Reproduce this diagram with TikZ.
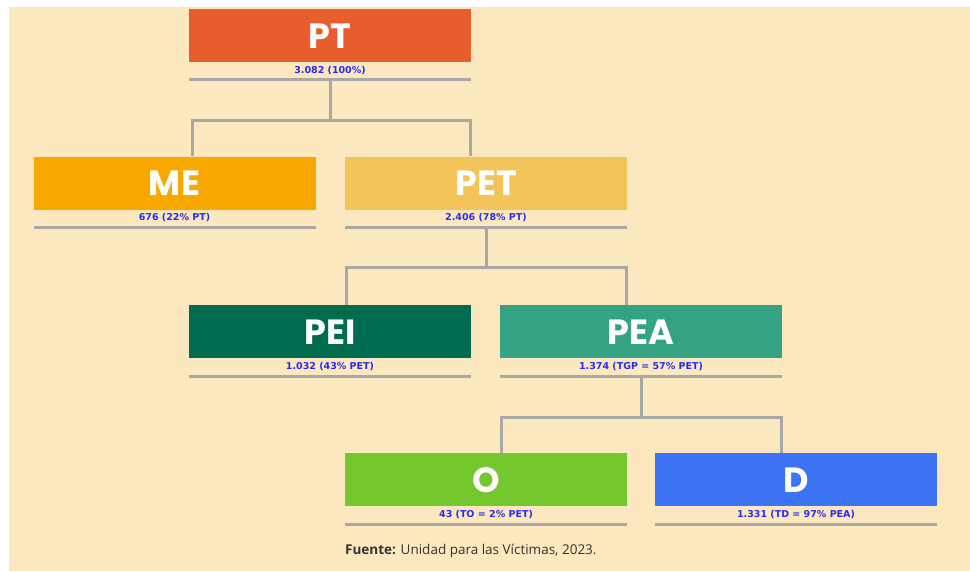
\documentclass[tikz,border=0pt]{standalone}
\usepackage{fontspec}
\setmainfont{Open Sans}
\newfontfamily\titlefont{Poppins}
\newfontfamily\labfont{DejaVu Sans}
\definecolor{bg}{HTML}{FCE8BE}
\definecolor{cpt}{HTML}{E85D2E}
\definecolor{cme}{HTML}{F9A800}
\definecolor{cpet}{HTML}{F2C45A}
\definecolor{cpei}{HTML}{006B4F}
\definecolor{cpea}{HTML}{35A383}
\definecolor{co}{HTML}{74C82E}
\definecolor{cd}{HTML}{3D73F5}
\definecolor{lgray}{HTML}{A8A8A8}
\definecolor{lblue}{HTML}{2B2BEB}
\definecolor{dtext}{HTML}{333333}
\tikzset{
  box/.style={rectangle, inner sep=0pt, minimum width=282pt, minimum height=53pt,
    text=white, font=\titlefont\bfseries\fontsize{35}{35}\selectfont, text height=25pt, text depth=0pt},
  lab/.style={inner sep=0pt, text=lblue, font=\labfont\bfseries\fontsize{9.5}{9.5}\selectfont, text height=6.9pt, text depth=0pt},
  uline/.style={draw=lgray, line width=3pt},
  conn/.style={draw=lgray, line width=3pt},
}
\begin{document}
\begin{tikzpicture}[x=1pt,y=-1pt]
\useasboundingbox (0,0) rectangle (970,571);
\fill[white] (0,0) rectangle (970,571);
\fill[bg] (9,7) rectangle (970,571);
% boxes
\node[box, fill=cpt]  (pt)  at (330,35.5) {PT};
\node[box, fill=cme]  (me)  at (174.5,183) {ME};
\node[box, fill=cpet] (pet) at (486,183) {PET};
\node[box, fill=cpei] (pei) at (330,331.5) {PEI};
\node[box, fill=cpea] (pea) at (641,331.5) {PEA};
\node[box, fill=co]   (o)   at (486,479.5) {O};
\node[box, fill=cd]   (d)   at (796,479.5) {D};
% labels
\node[lab] (ptl)  at (330,70)  {3.082 (100\%)};
\node[lab] (mel)  at (174.5,217.5) {676 (22\% PT)};
\node[lab] (petl) at (486,217.5) {2.406 (78\% PT)};
\node[lab] (peil) at (330,366.5) {1.032 (43\% PET)};
\node[lab] (peal) at (641,366.5) {1.374 (TGP = 57\% PET)};
\node[lab] (ol)   at (486,514.5) {43 (TO = 2\% PET)};
\node[lab] (dl)   at (796,514.5) {1.331 (TD = 97\% PEA)};
% underlines
\coordinate (ptu) at (330,79);
\coordinate (meu) at (174.5,227);
\coordinate (petu) at (486,227);
\coordinate (peiu) at (330,376);
\coordinate (peau) at (641,376);
\coordinate (ou) at (486,524);
\coordinate (du) at (796,524);
\foreach \n in {ptu,meu,petu,peiu,peau,ou,du}
  \draw[uline] ([xshift=-141pt]\n) -- ([xshift=141pt]\n);
% connectors
\coordinate (j1l) at (192,120);
\coordinate (j1r) at (470,120);
\draw[conn] (ptu) -- (ptu |- j1l);
\draw[conn] (j1l |- me.north) -- (j1l) -- (j1r) -- (j1r |- pet.north);
\coordinate (j2l) at (346,267);
\coordinate (j2r) at (626,267);
\draw[conn] (petu) -- (petu |- j2l);
\draw[conn] (j2l |- pei.north) -- (j2l) -- (j2r) -- (j2r |- pea.north);
\coordinate (j3l) at (501,417);
\coordinate (j3r) at (781,417);
\draw[conn] (peau) -- (peau |- j3l);
\draw[conn] (j3l |- o.north) -- (j3l) -- (j3r) -- (j3r |- d.north);
% source
\node[anchor=base west, inner sep=0pt, text=dtext, font=\fontsize{13.5}{13.5}\selectfont] (src) at (345,554)
  {\textbf{Fuente:} Unidad para las Víctimas, 2023.};
\end{tikzpicture}
\end{document}
